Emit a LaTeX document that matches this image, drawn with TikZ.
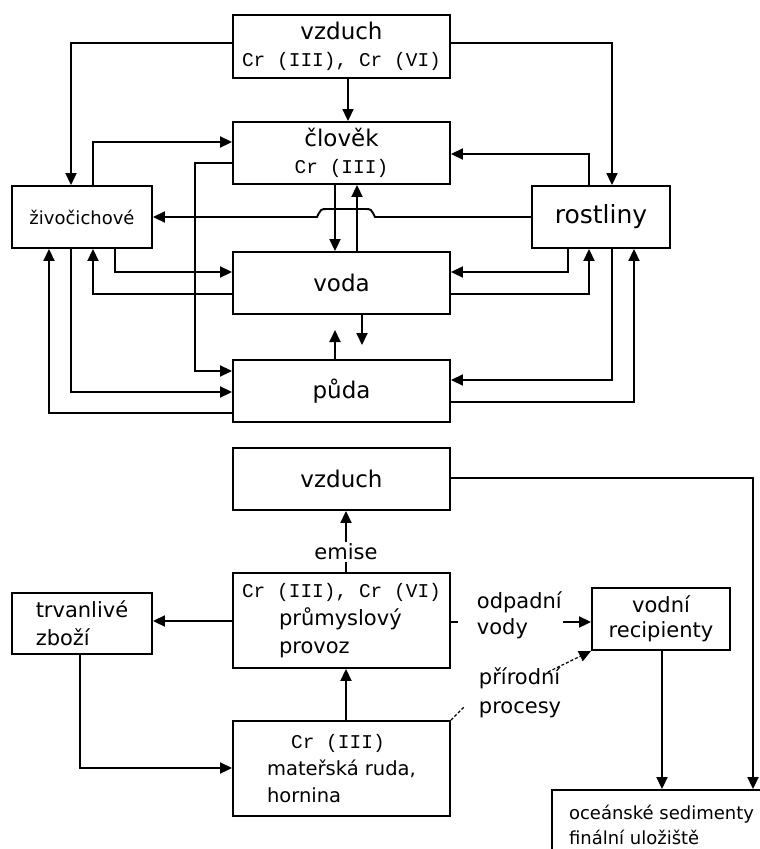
\documentclass[tikz,border=0pt]{standalone}
\usepackage{fontspec}
\setmainfont{DejaVu Sans}
\newfontfamily\monofam{Liberation Mono}
\usetikzlibrary{arrows.meta}
\newcommand{\crtext}[1]{{\monofam\fontsize{19.5}{27}\selectfont #1}}

\begin{document}
\begin{tikzpicture}
    [x=1pt, y=-1pt,
    line width=1.9pt,
    box/.style={draw, inner sep=0pt, minimum width=217pt, minimum height=62pt, align=center},
    big/.style={font=\fontsize{23}{27}\selectfont},
    txt/.style={font=\fontsize{21}{28}\selectfont},
    arr/.style={-{Triangle[length=12pt,width=11pt]}},
    dash line/.style={densely dashed, line width=1.2pt}]
    \useasboundingbox (0,0) rectangle (760,849);
    \clip (0,0) rectangle (760,849);
        %% Cycle
        \node[box, big, minimum height=63pt] (V) at (341.5,46.5) {vzduch\\\crtext{Cr (III), Cr (VI)}};
        \node[box, big] (C) at (341.5,153) {člověk\\\crtext{Cr (III)}};
        \node[box, minimum width=140pt, font=\fontsize{18}{22}\selectfont] (Z) at (82,217) {živočichové};
        \node[box, minimum width=138pt, font=\fontsize{25}{30}\selectfont] (R) at (601,217) {rostliny};
        \node[box, big] (W) at (341.5,283) {voda};
        \node[box, big] (P) at (341.5,391) {půda};
        \coordinate (WP) at (362,345);
        \coordinate (PW) at (335,330);

        \draw[arr] (V.west |- 0,43) -| (Z.north -| 71,0);
        \draw[arr] (V.east |- 0,43) -| (R.north -| 612,0);
        \draw[arr] (V.south -| 348,0) -- (C.north -| 348,0);
        \draw[arr] (Z.north -| 93,0) |- (C.west |- 0,142);
        \draw[arr] (C.west |- 0,163) -| (195,371) -- (P.west |- 0,371);
        \draw[arr] (R.north -| 589,0) |- (C.east |- 0,154);
        \draw[arr] (C.south -| 335,0) -- (W.north -| 335,0);
        \draw[arr] (W.north -| 357,0) -- (C.south -| 357,0);
        \draw[arr] (R.west) -- (375,217) .. controls (371,209) .. (365,209) -- (327,209)
            .. controls (321,209) .. (317,217) -- (Z.east);
        \draw[arr] (Z.south -| 115,0) |- (W.west |- 0,272);
        \draw[arr] (W.west |- 0,294) -| (Z.south -| 93,0);
        \draw[arr] (R.south -| 568,0) |- (W.east |- 0,272);
        \draw[arr] (W.east |- 0,294) -| (R.south -| 589,0);
        \draw[arr] (W.south -| 362,0) -- (WP);
        \draw[arr] (P.north -| 335,0) -- (PW);
        \draw[arr] (Z.south -| 71,0) |- (P.west |- 0,392);
        \draw[arr] (P.west |- 0,413) -| (Z.south -| 49,0);
        \draw[arr] (R.south -| 612,0) |- (P.east |- 0,380);
        \draw[arr] (P.east |- 0,402) -| (R.south -| 634,0);

        %% Sources
        \node[box, big] (V2) at (341.5,479) {vzduch};
        \node[box, txt, minimum height=95pt, align=left] (I) at (341.5,620.5)
            {\crtext{Cr (III), Cr (VI)}\\\hspace*{37pt}průmyslový\\\hspace*{37pt}provoz};
        \node[box, txt, minimum width=140pt, minimum height=61pt, align=left] (D) at (82,623.5) {trvanlivé\\zboží};
        \node[box, minimum height=95pt, align=left, font=\fontsize{19.5}{27}\selectfont] (M) at (341.5,768.5)
            {\hspace*{24pt}\crtext{Cr (III)}\\mateřská ruda,\\hornina};
        \node[box, txt, minimum width=138pt, font=\fontsize{21}{25}\selectfont] (Rc) at (661,619) {vodní\\recipienty};
        \node[box, minimum width=219pt, minimum height=69pt, align=left, font=\fontsize{18}{25}\selectfont] (O) at (661.5,824.5)
            {oceánské sedimenty\\finální uložiště};
        \node[txt, inner sep=1pt] (E) at (346,552) {emise};
        \node[txt, align=left, anchor=west, inner sep=0pt, font=\fontsize{21}{26}\selectfont] (Od) at (476,615) {odpadní\\vody};
        \node[txt, align=left, anchor=west, inner sep=0pt, font=\fontsize{21}{29}\selectfont] (Pr) at (478,692.5) {přírodní\\procesy};
        \coordinate (odpL) at (458,622);
        \coordinate (odpR) at (563,622);
        \coordinate (prL) at (465,706);
        \coordinate (prR) at (548,672);

        \draw (I.north -| 346,0) -- (E);
        \draw[arr] (E) -- (V2.south -| 346,0);
        \draw[arr] (V2.east |- 0,478) -| (O.north -| 753,0);
        \draw[arr] (I.west |- 0,621) -- (D.east |- 0,621);
        \draw[arr] (D.south -| 80,0) |- (M.west |- 0,768);
        \draw[arr] (M.north -| 346,0) -- (I.south -| 346,0);
        \draw (I.east |- 0,622) -- (odpL);
        \draw[arr] (odpR) -- (Rc.west |- 0,622);
        \draw[dash line] (M.north east) -- (prL);
        \draw[arr, dash line] (prR) -- (Rc.south west);
        \draw[arr] (Rc.south -| 662,0) -- (O.north -| 662,0);
    \end{tikzpicture}
\end{document}
